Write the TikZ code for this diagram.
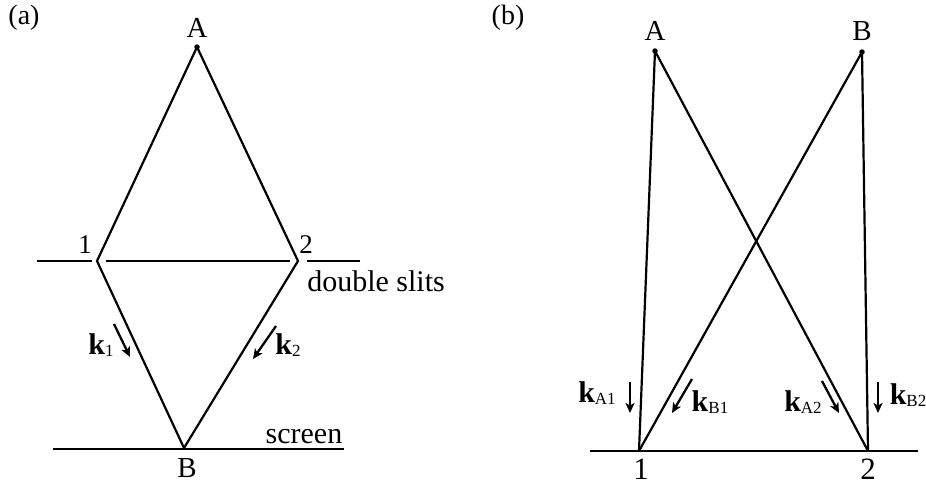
\documentclass[tikz,border=0pt]{standalone}
\usepackage{fontspec}
\setmainfont{Liberation Serif}
\usetikzlibrary{arrows.meta}
\tikzset{
  ray/.style={line width=2.2pt},
  barrier/.style={line width=2.2pt},
  kvec/.style={line width=2.3pt,-{Stealth[length=10pt,width=9pt,inset=2.5pt]}},
  lbl/.style={inner sep=1pt,font=\fontsize{29}{31}\selectfont},
  digit/.style={inner sep=1pt,font=\fontsize{27}{29}\selectfont},
  bdigit/.style={inner sep=1pt,font=\fontsize{31}{33}\selectfont},
  word/.style={inner sep=1pt,font=\fontsize{30}{32}\selectfont},
  klbl/.style={inner sep=1pt,font=\fontsize{30}{32}\selectfont},
  dot/.style={circle,fill=black,inner sep=0pt,minimum size=5.5pt}
}
\newcommand{\kv}[1]{\textbf{k}\raisebox{-1.5pt}{\fontsize{17}{18}\selectfont #1}}
\begin{document}
\begin{tikzpicture}[x=1pt,y=-1pt]
\useasboundingbox (0,0) rectangle (926,485);
% ---------- panel (a) ----------
\node[word,font=\fontsize{28}{30}\selectfont] (pa) at (24,18) {(a)};
\coordinate (aA) at (197,47);
\coordinate (a1) at (97,261);
\coordinate (a2) at (298,261);
\coordinate (aB) at (184,448);
\node[dot] at (aA) {};
\node[lbl] (laA) at (197,28) {A};
\node[digit] (la1) at (85,245) {1};
\node[digit] (la2) at (306,245) {2};
\node[lbl] (laB) at (187,468) {B};
\node[word] (lds) at (376,281) {double slits};
\node[word] (lsc) at (304,437) {screen};
% barrier
\coordinate (b1) at (37,261); \coordinate (b2) at (92,261);
\coordinate (b3) at (106,261); \coordinate (b4) at (290,261);
\coordinate (b5) at (307,261); \coordinate (b6) at (360,261);
\draw[barrier] (b1) -- (b2);
\draw[barrier] (b3) -- (b4);
\draw[barrier] (b5) -- (b6);
% screen
\coordinate (s1) at (53,449); \coordinate (s2) at (344,449);
\draw[barrier] (s1) -- (s2);
% rays
\draw[ray] (aA) -- (a1) -- (aB);
\draw[ray] (aA) -- (a2) -- (aB);
% k vectors
\coordinate (k1s) at (114,324); \coordinate (k1e) at (130,357);
\coordinate (k2s) at (276,326); \coordinate (k2e) at (253,359);
\draw[kvec] (k1s) -- (k1e);
\draw[kvec] (k2s) -- (k2e);
\node[klbl] (lk1) at (101,345) {\kv{1}};
\node[klbl] (lk2) at (288,345) {\kv{2}};
% ---------- panel (b) ----------
\node[word,font=\fontsize{28}{30}\selectfont] (pb) at (508,18) {(b)};
\coordinate (bA) at (655,51);
\coordinate (bB) at (862,52);
\coordinate (b1p) at (639,451);
\coordinate (b2p) at (868,451);
\node[dot] at (bA) {};
\node[dot] at (bB) {};
\node[lbl] (lbA) at (655,31) {A};
\node[lbl] (lbB) at (862,31) {B};
\node[bdigit] (lb1) at (641,469) {1};
\node[bdigit] (lb2) at (868,469) {2};
\coordinate (t1) at (590,451); \coordinate (t2) at (918,451);
\draw[barrier] (t1) -- (t2);
\draw[ray] (bA) -- (b1p);
\draw[ray] (bA) -- (b2p);
\draw[ray] (bB) -- (b1p);
\draw[ray] (bB) -- (b2p);
\coordinate (kA1s) at (630,382); \coordinate (kA1e) at (630,413);
\coordinate (kB1s) at (692,379); \coordinate (kB1e) at (672,413);
\coordinate (kA2s) at (822,381); \coordinate (kA2e) at (839,413);
\coordinate (kB2s) at (878,382); \coordinate (kB2e) at (878,413);
\draw[kvec] (kA1s) -- (kA1e);
\draw[kvec] (kB1s) -- (kB1e);
\draw[kvec] (kA2s) -- (kA2e);
\draw[kvec] (kB2s) -- (kB2e);
\node[klbl] (lkA1) at (597,393) {\kv{A1}};
\node[klbl] (lkB1) at (710,402) {\kv{B1}};
\node[klbl] (lkA2) at (803,402) {\kv{A2}};
\node[klbl] (lkB2) at (908,395) {\kv{B2}};
\end{tikzpicture}
\end{document}
